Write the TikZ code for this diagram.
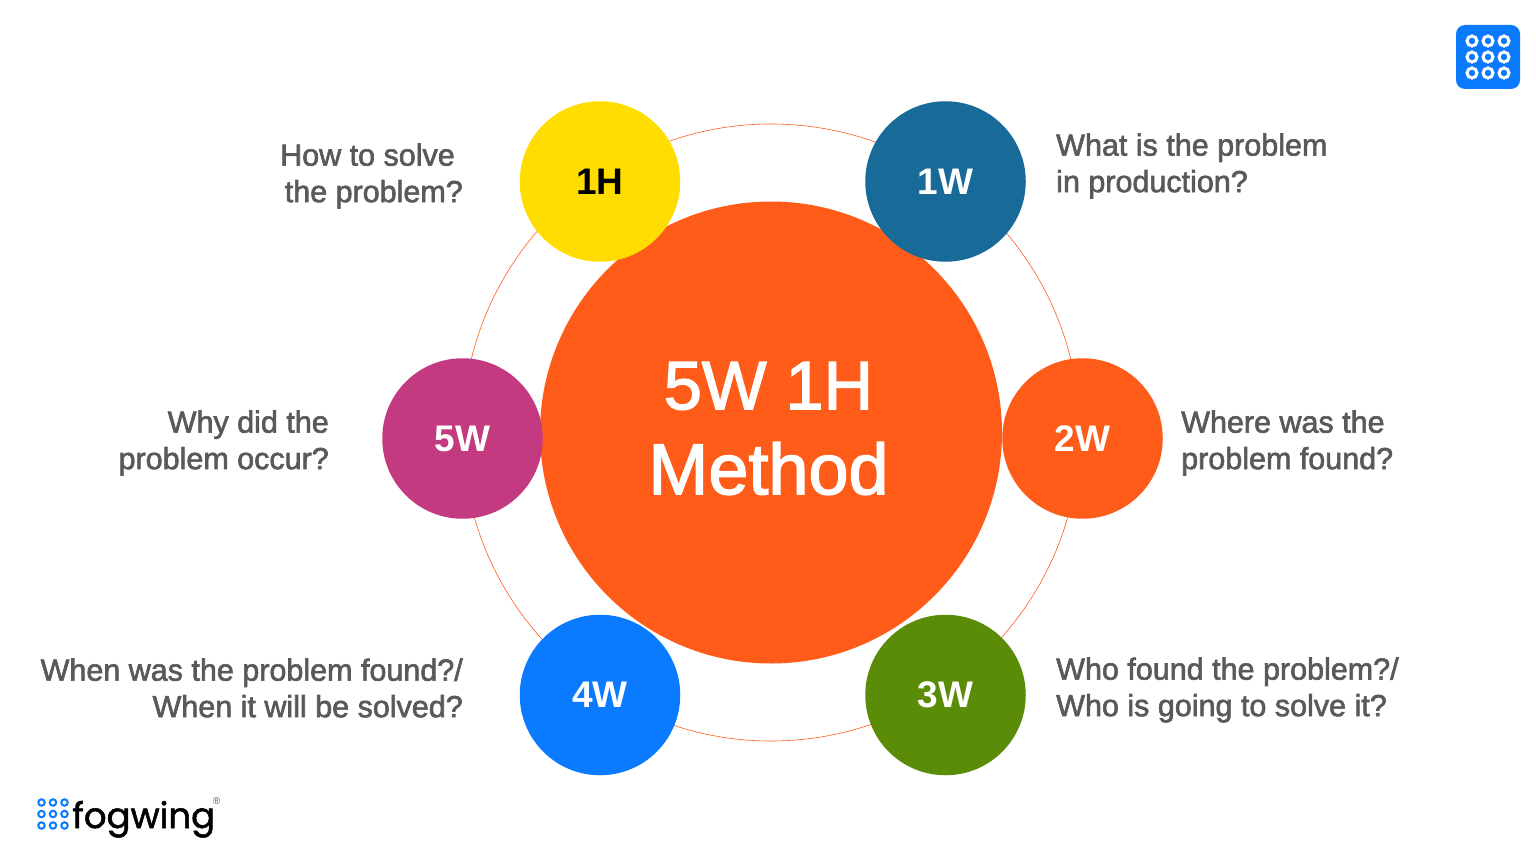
\documentclass[tikz,border=0pt]{standalone}
\usepackage{fontspec}
\setmainfont{Liberation Sans}
\newfontfamily\medfont[FakeBold=2]{Liberation Sans}
\newfontfamily\logofont[FakeBold=1.5]{Poppins}
\definecolor{ringorange}{HTML}{FF5C1A}
\definecolor{capyellow}{HTML}{FFDD00}
\definecolor{capteal}{HTML}{186A98}
\definecolor{capmagenta}{HTML}{C43A80}
\definecolor{capblue}{HTML}{0A7BFF}
\definecolor{capgreen}{HTML}{5B8C08}
\definecolor{asktext}{HTML}{595959}
\tikzset{
  capnode/.style = {circle, minimum size=160.5pt, inner sep=0pt, text=white, font=\bfseries\fontsize{37}{37}\selectfont},
  asknode/.style = {align=left, inner sep=0pt, text=asktext, font=\medfont\fontsize{30.5}{36.5}\selectfont},
  askright/.style = {asknode, align=right},
  dotnode/.style = {circle, draw=capblue, line width=2pt, minimum size=6.5pt, inner sep=0pt},
  appdot/.style = {circle, draw=white, line width=3pt, minimum size=10pt, inner sep=0pt}
}
\begin{document}
\begin{tikzpicture}[x=1pt, y=-1pt]
  \useasboundingbox (0,0) rectangle (1536,864);
  \node [circle, draw=ringorange, line width=0.6pt, minimum size=617pt] (ring) at (771,432.5) {};
  \node [circle, fill=ringorange, minimum size=462pt, inner sep=0pt] (hub) at (771,432.5) {};
  \node [align=center, inner sep=0pt, text=white, font=\medfont\fontsize{72}{85}\selectfont] (hubtext) at (768.5,428.5)
    {{\fontsize{68.5}{85}\selectfont 5W 1H}\\Method};
  % six small circles
  \node [capnode, fill=capyellow, text=black] (oneh) at (600,181.5) {1H};
  \node [capnode, fill=capteal] (onew) at (945.5,181.5) {1W};
  \node [capnode, fill=ringorange] (twow) at (1082.5,438.5) {2W};
  \node [capnode, fill=capgreen] (threew) at (945.5,695) {3W};
  \node [capnode, fill=capblue] (fourw) at (600,695) {4W};
  \node [capnode, fill=capmagenta] (fivew) at (462.5,438.5) {5W};
  % questions
  \node [askright, anchor=east] (askoneh) at (463,176) {How to solve\hspace*{8pt}\\the problem?};
  \node [asknode, anchor=west] (askonew) at (1056,166) {What is the problem\\in production?};
  \node [asknode, anchor=west] (asktwow) at (1181,443) {Where was the\\problem found?};
  \node [asknode, anchor=west] (askthreew) at (1056,690) {Who found the problem?/\\Who is going to solve it?};
  \node [askright, anchor=east] (askfourw) at (463,688) {When was the problem found?/\\When it will be solved?};
  \node [askright, anchor=east] (askfivew) at (329,443) {Why did the\\problem occur?};
  % app icon
  \node [rounded corners=9pt, fill=capblue, minimum size=64pt, inner sep=0pt] (appicon) at (1488,57) {};
  \foreach \row in {0,1,2}
    \foreach \col in {0,1,2}
      \node [appdot] (app\row\col) at (1472+16*\col,41+16*\row) {};
  % logo
  \foreach \row in {0,1,2}
    \foreach \col in {0,1,2}
      \node [dotnode] (logo\row\col) at (41.5+11.5*\col,802.5+11.5*\row) {};
  \node [anchor=base west, inner sep=0pt, text=black, font=\logofont\fontsize{35.5}{40}\selectfont] (logoname) at (72,828) {fogwing};
  \node [anchor=center, inner sep=0pt, text=asktext, font=\fontsize{10}{10}\selectfont] (logomark) at (216.5,801.5) {®};
\end{tikzpicture}
\end{document}
